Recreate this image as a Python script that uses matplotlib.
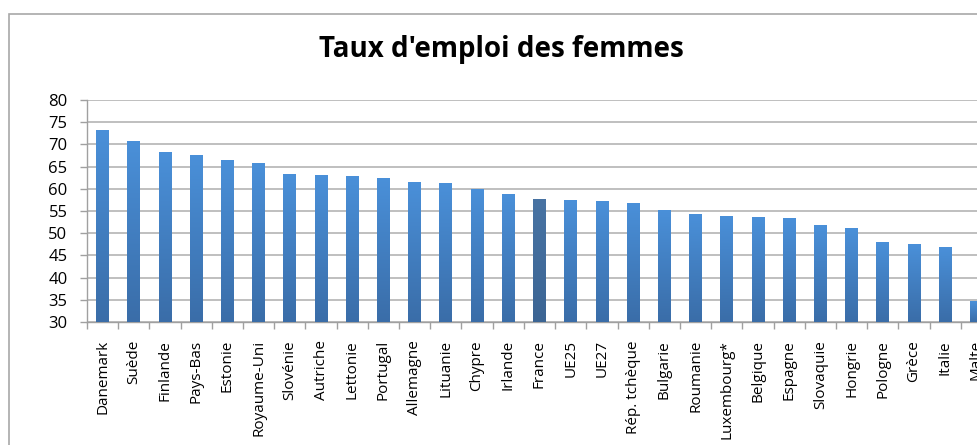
import matplotlib
matplotlib.use("Agg")
import matplotlib.pyplot as plt
import numpy as np
from matplotlib.patches import Rectangle
from matplotlib.colors import LinearSegmentedColormap

countries = ["Danemark", "Suède", "Finlande", "Pays-Bas", "Estonie", "Royaume-Uni",
             "Slovénie", "Autriche", "Lettonie", "Portugal", "Allemagne", "Lituanie",
             "Chypre", "Irlande", "France", "UE25", "UE27", "Rép. tchèque", "Bulgarie",
             "Roumanie", "Luxembourg*", "Belgique", "Espagne", "Slovaquie", "Hongrie",
             "Pologne", "Grèce", "Italie", "Malte"]
values = [73.2, 70.6, 68.1, 67.5, 66.4, 65.8, 63.3, 63.0, 62.8, 62.4, 61.5, 61.1,
          59.9, 58.8, 57.7, 57.4, 57.1, 56.8, 55.1, 54.1, 53.8, 53.6, 53.2, 51.7,
          51.1, 47.8, 47.5, 46.7, 34.6]
highlight = "France"
title = "Taux d'emploi des femmes"
y_min, y_max, y_step = 30, 80, 5

plt.rcParams['font.family'] = ['Open Sans', 'DejaVu Sans']

W, H = 978, 445
fig = plt.figure(figsize=(W / 100, H / 100), dpi=100)
fig.patch.set_facecolor("white")

# outer chart frame (cropped on the right and bottom)
fig.patches.append(Rectangle((8.5 / W, -0.1), 1.2, 1.1 - 13.5 / H,
                             transform=fig.transFigure, fill=False,
                             edgecolor="#a8a8a8", lw=1.2, zorder=0))

ax = fig.add_axes([87 / W, 1 - 322 / H, (992 - 87) / W, (322 - 100) / H])
x = np.arange(len(countries))
bw = 0.41
bars = ax.bar(x, np.array(values) - y_min, bottom=y_min, width=bw, color="none",
              edgecolor="none", zorder=3)

grad = np.linspace(0, 1, 256).reshape(-1, 1)
cmap_blue = LinearSegmentedColormap.from_list("b", ["#3a6da8", "#4a90d9"])
cmap_fr = LinearSegmentedColormap.from_list("f", ["#3c6594", "#4873a3"])
for name, b in zip(countries, bars):
    x0 = b.get_x()
    y0 = b.get_y()
    cm = cmap_fr if name == highlight else cmap_blue
    ax.imshow(grad, extent=[x0, x0 + b.get_width(), y0, y0 + b.get_height()],
              origin="lower", cmap=cm, aspect="auto", zorder=3, interpolation="bilinear")

ax.set_xlim(-0.5, len(countries) - 0.5)
ax.set_ylim(y_min, y_max)
ax.set_yticks(np.arange(y_min, y_max + 1, y_step))
ax.yaxis.grid(True, color="#b4b4b4", lw=1.2, zorder=1)
ax.set_axisbelow(True)

ax.set_xticks(x)
ax.set_xticklabels(countries, rotation=90, fontsize=11)
ax.set_xticks(np.arange(-0.5, len(countries), 1), minor=True)
ax.tick_params(axis="x", which="major", length=0, pad=13)
ax.tick_params(axis="x", which="minor", length=5, color="#a0a0a0", width=1)
ax.tick_params(axis="y", length=5, color="#a0a0a0", width=1, pad=9, labelsize=12)

for s in ["top", "right"]:
    ax.spines[s].set_visible(False)
for s in ["left", "bottom"]:
    ax.spines[s].set_color("#a0a0a0")
    ax.spines[s].set_linewidth(1)

fig.text(501 / W, 1 - 49 / H, title, ha="center", va="center",
         fontsize=20, fontweight="bold")

fig.savefig("out.png", dpi=100)
